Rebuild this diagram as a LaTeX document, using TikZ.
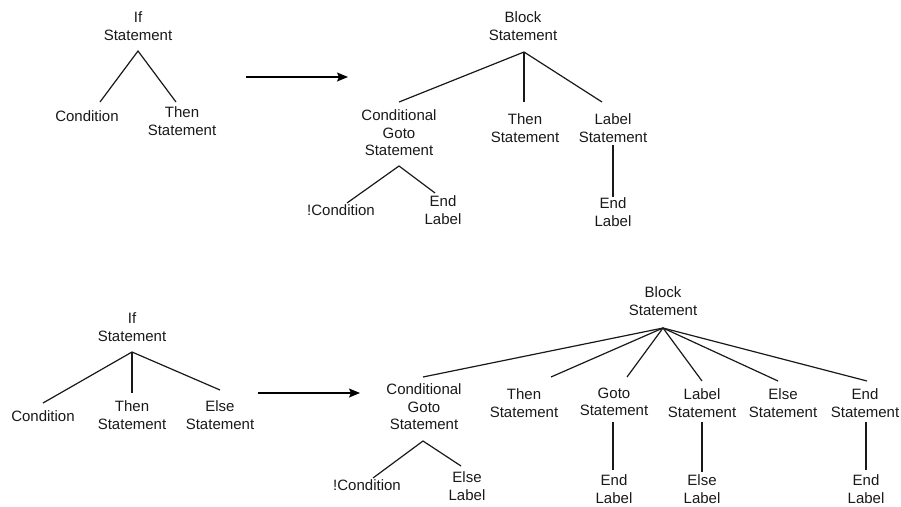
\documentclass[tikz,border=0pt]{standalone}
\usepackage{fontspec}
\setmainfont{Liberation Sans}
\usetikzlibrary{arrows.meta}
\begin{document}
\begin{tikzpicture}[x=1pt,y=-1pt,
  lbl/.style={align=center,inner sep=0pt,font=\fontsize{15}{17.5}\selectfont,text=black!90},
  edge/.style={draw=black!90,line width=1.2pt},
  xform/.style={draw=black,line width=1.3pt,-{Stealth[length=11pt,width=9pt,inset=2pt]}}]
\useasboundingbox (0,0) rectangle (901,506);

% ---------- if-then rewrite ----------
\node[lbl] (if1)    at (138,26)  {If\\Statement};
\node[lbl] (cond1)  at (87,116)  {Condition};
\node[lbl] (then1)  at (182,121) {Then\\Statement};
\coordinate (if1j)  at (138,51);
\coordinate (cond1j) at (100,102);
\coordinate (then1j) at (176,102);
\draw[edge] (cond1j) -- (if1j) -- (then1j);

\coordinate (a1s) at (246,77);
\coordinate (a1e) at (348,77);
\draw[xform] (a1s) -- (a1e);

\node[lbl] (blk1)   at (523,26)  {Block\\Statement};
\node[lbl] (cg1)    at (399,133) {Conditional\\Goto\\Statement};
\node[lbl] (then2)  at (525,128) {Then\\Statement};
\node[lbl] (lab1)   at (613,128) {Label\\Statement};
\node[lbl] (ncond1) at (341,210) {!Condition};
\node[lbl] (endl2)  at (443,210) {End\\Label};
\node[lbl] (endl1)  at (613,212) {End\\Label};
\coordinate (blk1j)  at (524,52);
\coordinate (cg1t)   at (399,102);
\coordinate (then2t) at (524,102);
\coordinate (lab1t)  at (602,102);
\draw[edge] (blk1j) -- (cg1t);
\draw[edge] (blk1j) -- (then2t);
\draw[edge] (blk1j) -- (lab1t);
\coordinate (cg1j)    at (399,166);
\coordinate (ncond1t) at (347,203);
\coordinate (endl2t)  at (435,193);
\draw[edge] (ncond1t) -- (cg1j) -- (endl2t);
\coordinate (lab1b)  at (613,145);
\coordinate (endl1t) at (613,197);
\draw[edge] (lab1b) -- (endl1t);

% ---------- if-then-else rewrite ----------
\node[lbl] (if2)   at (132,327) {If\\Statement};
\node[lbl] (cond2) at (43,416)  {Condition};
\node[lbl] (then3) at (132,415) {Then\\Statement};
\node[lbl] (else1) at (220,415) {Else\\Statement};
\coordinate (if2j)   at (132,352);
\coordinate (cond2t) at (43,403);
\coordinate (then3t) at (132,393);
\coordinate (else1t) at (220,390);
\draw[edge] (if2j) -- (cond2t);
\draw[edge] (if2j) -- (then3t);
\draw[edge] (if2j) -- (else1t);

\coordinate (a2s) at (258,393);
\coordinate (a2e) at (360,393);
\draw[xform] (a2s) -- (a2e);

\node[lbl] (blk2)  at (663,301) {Block\\Statement};
\node[lbl] (cg2)   at (424,407) {Conditional\\Goto\\Statement};
\node[lbl] (then4) at (524,403) {Then\\Statement};
\node[lbl] (goto1) at (614,402) {Goto\\Statement};
\node[lbl] (lab2)  at (702,403) {Label\\Statement};
\node[lbl] (else2) at (783,403) {Else\\Statement};
\node[lbl] (end1)  at (865,403) {End\\Statement};
\coordinate (blk2j)  at (663,328);
\coordinate (cg2t)   at (423,377);
\coordinate (then4t) at (551,377);
\coordinate (goto1t) at (627,377);
\coordinate (lab2t)  at (702,381);
\coordinate (else2t) at (778,381);
\coordinate (end1t)  at (867,381);
\foreach \c in {cg2t,then4t,goto1t,lab2t,else2t,end1t}
  \draw[edge] (blk2j) -- (\c);

\node[lbl] (ncond2) at (367,485) {!Condition};
\node[lbl] (elsel1) at (467,486) {Else\\Label};
\coordinate (cg2j)    at (423,441);
\coordinate (ncond2t) at (373,478);
\coordinate (elsel1t) at (461,466);
\draw[edge] (ncond2t) -- (cg2j) -- (elsel1t);

\node[lbl] (endl3)  at (614,489) {End\\Label};
\node[lbl] (elsel2) at (702,489) {Else\\Label};
\node[lbl] (endl4)  at (866,489) {End\\Label};
\coordinate (goto1b) at (613,422);
\coordinate (endl3t) at (613,470);
\coordinate (lab2b)  at (702,422);
\coordinate (elsel2t) at (702,472);
\coordinate (end1b)  at (866,422);
\coordinate (endl4t) at (866,470);
\draw[edge] (goto1b) -- (endl3t);
\draw[edge] (lab2b) -- (elsel2t);
\draw[edge] (end1b) -- (endl4t);
\end{tikzpicture}
\end{document}
